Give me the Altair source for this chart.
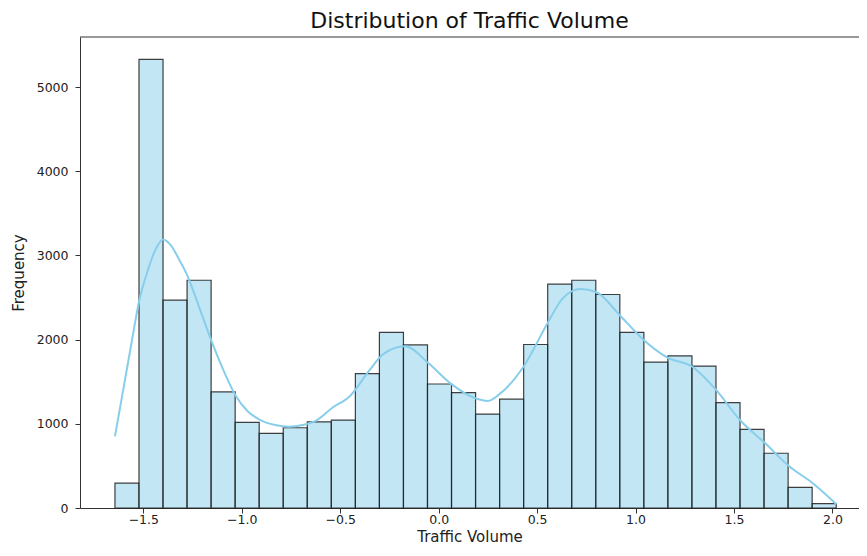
import altair as alt
import pandas as pd

# Histogram counts (30 equal bins)
counts = [295, 5328, 2469, 2705, 1379, 1016, 886, 953, 1024, 1044,
          1595, 2087, 1937, 1473, 1370, 1115, 1292, 1942, 2658, 2705,
          2536, 2087, 1733, 1807, 1686, 1252, 933, 650, 245, 52]
bin_start = -1.644
bin_width = 0.1221

# KDE curve (scaled to counts)
kde_x = [-1.644, -1.60, -1.56, -1.52, -1.48, -1.44, -1.40, -1.36, -1.32, -1.28,
         -1.24, -1.20, -1.15, -1.09, -1.03, -0.97, -0.91, -0.83, -0.76, -0.69,
         -0.62, -0.54, -0.45, -0.35, -0.28, -0.17, -0.05, 0.06, 0.19, 0.25,
         0.31, 0.43, 0.56, 0.63, 0.72, 0.80, 0.92, 1.03, 1.16, 1.29,
         1.41, 1.53, 1.66, 1.78, 1.90, 2.02]
kde_y = [850, 1430, 1960, 2470, 2800, 3060, 3190, 3120, 2960, 2780,
         2540, 2280, 1960, 1620, 1330, 1150, 1050, 985, 965, 985,
         1040, 1190, 1330, 1640, 1830, 1920, 1715, 1480, 1300, 1272,
         1355, 1675, 2225, 2490, 2600, 2565, 2290, 2020, 1790, 1675,
         1400, 1045, 765, 495, 295, 45]

x_ticks = [-1.5, -1.0, -0.5, 0.0, 0.5, 1.0, 1.5, 2.0]
y_ticks = [0, 1000, 2000, 3000, 4000, 5000]

bars_df = pd.DataFrame({
    "lo": [bin_start + i * bin_width for i in range(len(counts))],
    "hi": [bin_start + (i + 1) * bin_width for i in range(len(counts))],
    "count": counts,
})
kde_df = pd.DataFrame({"x": kde_x, "y": kde_y})

W, H = 779, 471
xscale = alt.Scale(domain=[-1.8215, 2.1348], nice=False, zero=False)
yscale = alt.Scale(domain=[0, 5594], nice=False, zero=True)

xaxis = alt.Axis(values=x_ticks, format=".1f", title="Traffic Volume",
                 titleY=33, titleBaseline="alphabetic", labelPadding=0)
yaxis = alt.Axis(values=y_ticks, format="d", title="Frequency",
                 titleX=-62, titleY=H / 2, titleAngle=-90,
                 titleBaseline="middle", titleAlign="center", labelPadding=7)

bars = alt.Chart(bars_df).mark_bar(
    fill="#87CEEB", fillOpacity=0.5, stroke="#1f1f1f",
    strokeWidth=1.2, strokeOpacity=0.85
).encode(
    x=alt.X("lo:Q", scale=xscale, axis=xaxis),
    x2="hi:Q",
    y=alt.Y("count:Q", scale=yscale, axis=yaxis),
    y2=alt.datum(0),
)

kde = alt.Chart(kde_df).mark_line(
    color="#87CEEB", strokeWidth=2, interpolate="monotone"
).encode(
    x=alt.X("x:Q", scale=xscale),
    y=alt.Y("y:Q", scale=yscale),
)

top_spine = alt.Chart(pd.DataFrame({"a": [0]})).mark_rule(
    color="#333333", strokeWidth=1
).encode(x=alt.value(0), x2=alt.value(W), y=alt.value(0))

chart = alt.layer(bars, kde, top_spine).properties(
    width=W, height=H,
    autosize="none",
    padding={"left": 72, "top": 29, "right": 0, "bottom": 36},
    title=alt.Title("Distribution of Traffic Volume", fontSize=22,
                    font="DejaVu Sans", fontWeight="normal", color="#111111",
                    anchor="middle", baseline="alphabetic", offset=4, dy=17),
).configure_view(stroke=None).configure_axis(
    grid=False, domainColor="#333333", tickColor="#333333", tickSize=5,
    labelFont="DejaVu Sans", labelFontSize=12.5, labelColor="#222222",
    titleFont="DejaVu Sans", titleFontSize=15, titleFontWeight="normal",
    titleColor="#222222",
)

chart.save("out.html", embed_options={"renderer": "svg", "actions": False})
